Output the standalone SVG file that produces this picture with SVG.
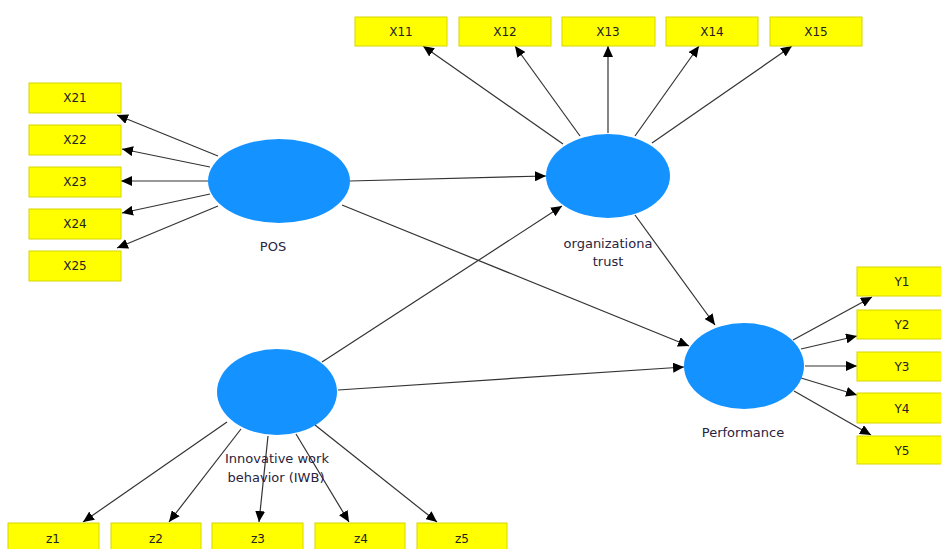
<svg xmlns="http://www.w3.org/2000/svg" width="941" height="549" viewBox="0 0 941 549">
<style>
.box{fill:#ffff00;stroke:#d6d600;stroke-width:1}
.bt{font-family:"DejaVu Sans",sans-serif;font-size:12px;fill:#222;text-anchor:middle}
.lv{fill:#1492ff}
.lt{font-family:"DejaVu Sans",sans-serif;font-size:13px;fill:#2a2340;text-anchor:middle}
.c line{stroke:#333;stroke-width:1.2;marker-end:url(#ah)}
</style>
<defs>
<marker id="ah" markerUnits="userSpaceOnUse" markerWidth="12" markerHeight="10" refX="11" refY="5" orient="auto">
<path d="M0,0 L11,5 L0,10 z" fill="#000"/>
</marker>
</defs>
<rect width="941" height="549" fill="#fff"/>
<g class="c">
<line x1="218" y1="156" x2="117" y2="115"/>
<line x1="210" y1="167" x2="122" y2="149"/>
<line x1="208" y1="181" x2="121" y2="181"/>
<line x1="210" y1="194" x2="122" y2="213"/>
<line x1="218" y1="206" x2="117" y2="248"/>
<line x1="563" y1="144" x2="423" y2="46"/>
<line x1="580" y1="136" x2="515" y2="46"/>
<line x1="608" y1="133" x2="608" y2="46"/>
<line x1="635" y1="136" x2="699" y2="46"/>
<line x1="652" y1="143" x2="792" y2="46"/>
<line x1="350" y1="181" x2="546" y2="176"/>
<line x1="342" y1="205" x2="689" y2="346"/>
<line x1="322" y1="362" x2="562" y2="206"/>
<line x1="338" y1="390" x2="684" y2="367"/>
<line x1="635" y1="215" x2="715" y2="325"/>
<line x1="793" y1="340" x2="872" y2="297"/>
<line x1="801" y1="349" x2="857" y2="336"/>
<line x1="805" y1="366" x2="857" y2="366"/>
<line x1="801" y1="378" x2="857" y2="395"/>
<line x1="794" y1="391" x2="871" y2="435"/>
<line x1="227" y1="422" x2="83" y2="522"/>
<line x1="241" y1="429" x2="169" y2="522"/>
<line x1="268" y1="436" x2="259" y2="522"/>
<line x1="296" y1="434" x2="349" y2="522"/>
<line x1="315" y1="425" x2="437" y2="522"/>
</g>
<g id="POS"><ellipse class="lv" cx="279" cy="181" rx="71" ry="42"/><text class="lt" x="273" y="251">POS</text></g>
<g id="OT"><ellipse class="lv" cx="608" cy="176" rx="62" ry="42"/><text class="lt" x="608" y="248">organizationa</text><text class="lt" x="608" y="266">trust</text></g>
<g id="PERF"><ellipse class="lv" cx="744" cy="366" rx="60" ry="43"/><text class="lt" x="743" y="437">Performance</text></g>
<g id="IWB"><ellipse class="lv" cx="277" cy="392" rx="60" ry="43"/><text class="lt" x="277" y="463">Innovative work</text><text class="lt" x="276" y="482">behavior (IWB)</text></g>
<g id="X21"><rect class="box" x="29" y="83" width="92" height="30"/><text class="bt" x="75" y="102">X21</text></g>
<g id="X22"><rect class="box" x="29" y="125" width="92" height="30"/><text class="bt" x="75" y="144">X22</text></g>
<g id="X23"><rect class="box" x="29" y="167" width="92" height="30"/><text class="bt" x="75" y="186">X23</text></g>
<g id="X24"><rect class="box" x="29" y="209" width="92" height="30"/><text class="bt" x="75" y="228">X24</text></g>
<g id="X25"><rect class="box" x="29" y="251" width="92" height="30"/><text class="bt" x="75" y="270">X25</text></g>
<g id="X11"><rect class="box" x="355" y="17" width="92" height="29"/><text class="bt" x="401" y="36">X11</text></g>
<g id="X12"><rect class="box" x="459" y="17" width="92" height="29"/><text class="bt" x="505" y="36">X12</text></g>
<g id="X13"><rect class="box" x="562" y="17" width="93" height="29"/><text class="bt" x="608" y="36">X13</text></g>
<g id="X14"><rect class="box" x="666" y="17" width="92" height="29"/><text class="bt" x="712" y="36">X14</text></g>
<g id="X15"><rect class="box" x="770" y="17" width="92" height="29"/><text class="bt" x="816" y="36">X15</text></g>
<g id="Y1"><rect class="box" x="857" y="267" width="92" height="29"/><text class="bt" x="902" y="286">Y1</text></g>
<g id="Y2"><rect class="box" x="857" y="310" width="92" height="29"/><text class="bt" x="902" y="329">Y2</text></g>
<g id="Y3"><rect class="box" x="857" y="352" width="92" height="29"/><text class="bt" x="902" y="371">Y3</text></g>
<g id="Y4"><rect class="box" x="857" y="393" width="92" height="30"/><text class="bt" x="902" y="413">Y4</text></g>
<g id="Y5"><rect class="box" x="857" y="436" width="92" height="28"/><text class="bt" x="902" y="455">Y5</text></g>
<g id="z1"><rect class="box" x="8" y="523" width="91" height="30"/><text class="bt" x="53" y="543">z1</text></g>
<g id="z2"><rect class="box" x="111" y="523" width="90" height="30"/><text class="bt" x="156" y="543">z2</text></g>
<g id="z3"><rect class="box" x="212" y="523" width="91" height="30"/><text class="bt" x="258" y="543">z3</text></g>
<g id="z4"><rect class="box" x="315" y="523" width="90" height="30"/><text class="bt" x="361" y="543">z4</text></g>
<g id="z5"><rect class="box" x="417" y="523" width="90" height="30"/><text class="bt" x="462" y="543">z5</text></g>
</svg>
